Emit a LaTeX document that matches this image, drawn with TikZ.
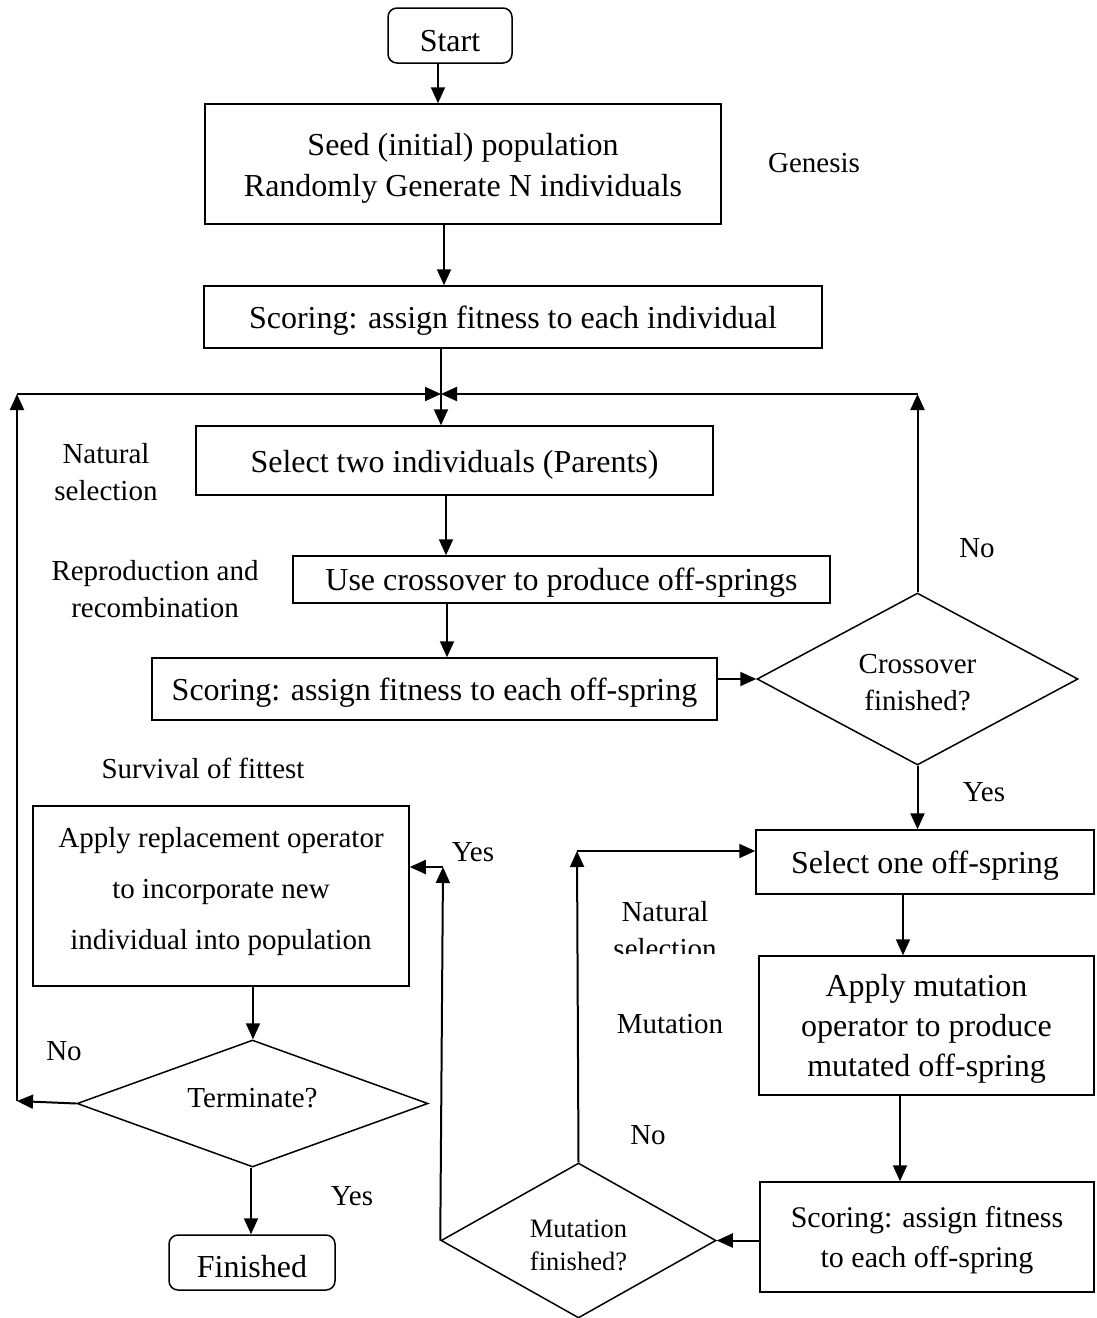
\documentclass[tikz,border=0pt]{standalone}
\usepackage{fontspec}
\setmainfont{Liberation Serif}
\usetikzlibrary{shapes.geometric,arrows.meta}
\newcommand{\tstrut}[1]{\rule{0pt}{#1}}
\begin{document}
\begin{tikzpicture}[x=1pt,y=-1pt,
  box/.style={draw,line width=1.5pt,inner sep=0pt,align=center,font=\fontsize{32}{41}\selectfont},
  rbox/.style={box,rounded corners=9pt},
  dec/.style={draw,diamond,line width=1.5pt,inner sep=0pt,align=center,font=\fontsize{29}{37}\selectfont},
  lbl/.style={align=center,inner sep=0pt,font=\fontsize{29}{37}\selectfont},
  tdown/.style={execute at begin node={\rule{0pt}{#1}}},
  tup/.style={execute at end node={\rule[-#1]{0pt}{0pt}}},
  arr/.style={line width=2pt,-{Triangle[length=16pt,width=14pt]}}]
\useasboundingbox (0,0) rectangle (1096,1318);
% nodes
\node[rbox,tdown=32pt,minimum width=124pt,minimum height=55pt] (Start) at (450,35.5) {Start};
\node[box,minimum width=516pt,minimum height=120pt] (Seed) at (463,164) {\tstrut{30pt}Seed (initial) population\\Randomly Generate N individuals};
\node[box,tdown=30pt,minimum width=618pt,minimum height=62pt] (Score1) at (513,317) {Scoring: assign fitness to each individual};
\node[box,tdown=30pt,minimum width=517pt,minimum height=69pt] (Select) at (454.5,460.5) {Select two individuals (Parents)};
\node[box,tdown=28pt,minimum width=537pt,minimum height=47pt] (Cross) at (561.5,579.5) {Use crossover to produce off-springs};
\node[box,tdown=30pt,minimum width=565pt,minimum height=62pt] (Score2) at (434.5,689) {Scoring: assign fitness to each off-spring};
\node[dec,minimum width=321pt,minimum height=172pt,shape aspect=1.87] (CrossD) at (917.5,679) {\tstrut{27pt}Crossover\\finished?};
\node[box,tdown=30pt,minimum width=338pt,minimum height=64pt] (Sel1) at (925,862) {Select one off-spring};
\node[box,minimum width=335pt,minimum height=139pt,font=\fontsize{32}{40}\selectfont] (Mut) at (926.5,1025.5) {\tstrut{28pt}Apply mutation\\operator to produce\\mutated off-spring};
\node[box,minimum width=334pt,minimum height=110pt,font=\fontsize{30}{40}\selectfont] (Score3) at (927,1237) {\tstrut{27pt}Scoring: assign fitness\\to each off-spring};
\node[dec,minimum width=275pt,minimum height=155pt,shape aspect=1.77,font=\fontsize{26.5}{33}\selectfont] (MutD) at (578.5,1240.5) {\tstrut{26.5pt}Mutation\\finished?};
\node[box,tup=14.5pt,minimum width=376pt,minimum height=180pt,font=\fontsize{29}{51}\selectfont] (Repl) at (221,896) {Apply replacement operator\\to incorporate new\\individual into population};
\node[dec,tup=12pt,minimum width=351pt,minimum height=127pt,shape aspect=2.76] (TermD) at (252.5,1103.5) {Terminate?};
\node[rbox,tdown=30pt,minimum width=166pt,minimum height=55pt] (Fin) at (252,1262.5) {Finished};
% labels
\node[lbl] (LGen) at (814,163) {Genesis};
\node[lbl] (LNat1) at (106,472) {Natural\\selection};
\node[lbl] (LRep) at (155,589) {Reproduction and\\recombination};
\node[lbl] (LSur) at (203,768) {Survival of fittest};
\begin{scope}
\clip (560,880) rectangle (770,953);
\node[lbl] (LNat2) at (665,930) {Natural\\selection};
\end{scope}
\node[lbl] (LMut) at (670,1024) {Mutation};
\node[lbl] (LNo1) at (977,548) {No};
\node[lbl] (LYes1) at (984,792) {Yes};
\node[lbl] (LYes2) at (473,852) {Yes};
\node[lbl] (LNo2) at (648,1135) {No};
\node[lbl] (LNo3) at (64,1051) {No};
\node[lbl] (LYes3) at (352,1196) {Yes};
% helper coordinates
\coordinate (J) at (441,394);
\coordinate (LB) at (17,1101);
\coordinate (MT) at (577,851);
\coordinate (MW) at (443,867);
\coordinate (X1) at (438,0);
\coordinate (X2) at (444,0);
\coordinate (X3) at (446,0);
\coordinate (X4) at (447,0);
\coordinate (X5) at (903,0);
\coordinate (X6) at (900,0);
\coordinate (X7) at (253,0);
\coordinate (X8) at (251,0);
% connectors
\draw[arr] (X1 |- Start.south) -- (X1 |- Seed.north);
\draw[arr] (X2 |- Seed.south) -- (X2 |- Score1.north);
\draw[arr] (J |- Score1.south) -- (J |- Select.north);
\draw[arr] (X3 |- Select.south) -- (X3 |- Cross.north);
\draw[arr] (X4 |- Cross.south) -- (X4 |- Score2.north);
\draw[arr] (CrossD.west -| Score2.east) -- (CrossD.west);
\draw[arr] (CrossD.north) -- (CrossD.north |- J);
\draw[arr] (CrossD.north |- J) -- (J);
\draw[arr] (CrossD.south) -- (CrossD.south |- Sel1.north);
\draw[arr] (X5 |- Sel1.south) -- (X5 |- Mut.north);
\draw[arr] (X6 |- Mut.south) -- (X6 |- Score3.north);
\draw[arr] (MutD.east -| Score3.west) -- (MutD.east);
\draw[arr] (MutD.north) -- (MT);
\draw[arr] (MT) -- (MT -| Sel1.west);
\draw[arr] (MutD.west) -- (MW);
\draw[arr] (MW) -- (MW -| Repl.east);
\draw[arr] (X7 |- Repl.south) -- (X7 |- TermD.north);
\draw[arr] (TermD.west) -- (LB);
\draw[arr] (LB) -- (LB |- J);
\draw[arr] (LB |- J) -- (J);
\draw[arr] (X8 |- TermD.south) -- (X8 |- Fin.north);
\end{tikzpicture}
\end{document}
